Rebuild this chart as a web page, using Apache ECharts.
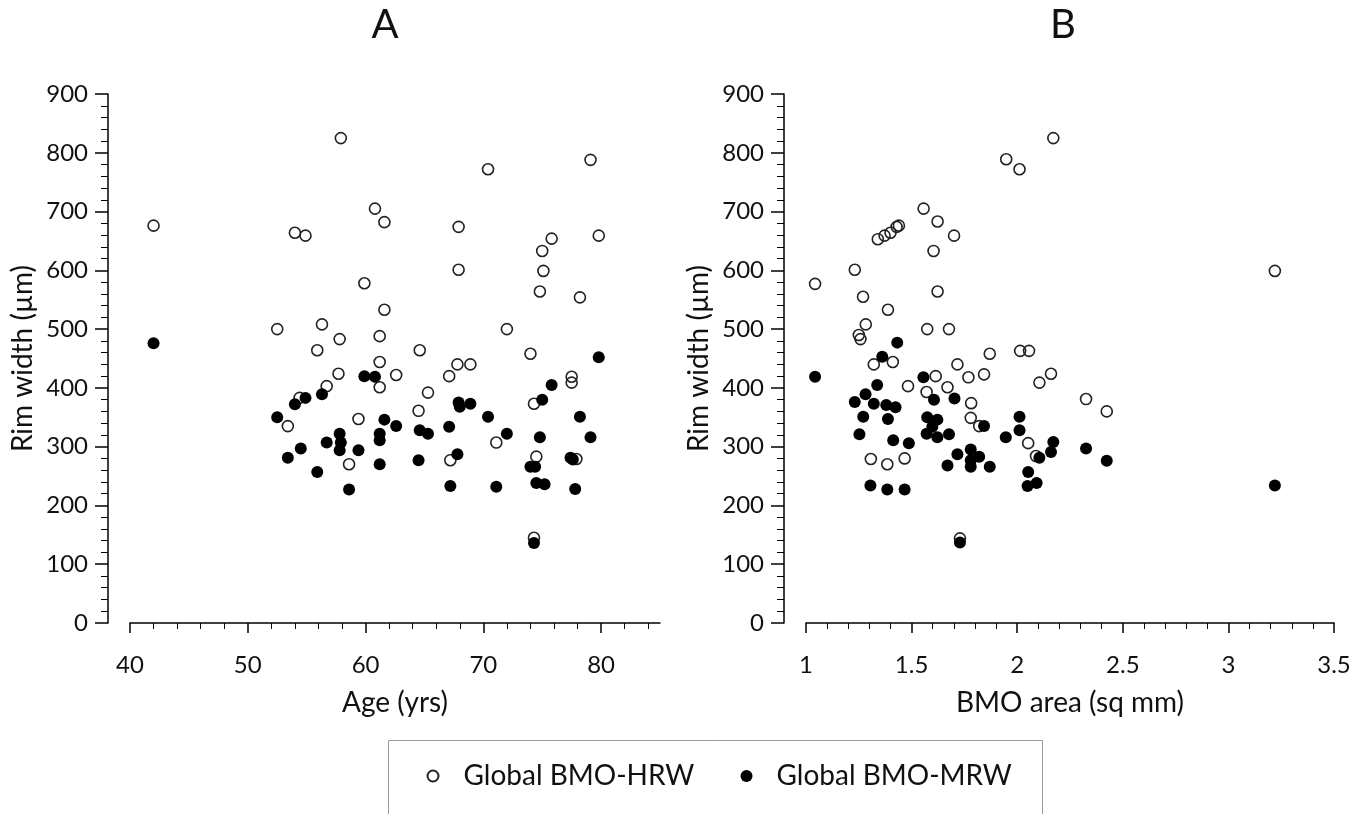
<!DOCTYPE html>
<html><head><meta charset="utf-8">
<script src="https://cdn.jsdelivr.net/npm/echarts@6/dist/echarts.min.js"></script>
<style>html,body{margin:0;padding:0;background:#fff}#c{width:1369px;height:814px}</style>
</head><body><div id="c"></div><script>
// Tick positions
const ageMajorTicks = [40, 50, 60, 70, 80];
const ageMinorTicks = [42, 44, 46, 48, 52, 54, 56, 58, 62, 64, 66, 68, 72, 74, 76, 78, 82, 84];

// Panel A: Age (yrs) vs rim width (µm)
const hrwByAge = [
  [42.0, 676], [57.9, 825], [70.4, 772], [79.1, 788], [60.8, 705], [61.6, 682], [54.0, 664], [54.9, 659],
  [67.9, 674], [75.8, 654], [79.8, 659], [75.0, 633], [67.9, 601], [75.1, 599], [59.9, 578], [74.8, 564],
  [78.2, 554], [61.6, 533], [52.5, 500], [56.3, 508], [57.8, 483], [61.2, 488], [72.0, 500], [55.9, 464],
  [64.6, 464], [74.0, 458], [61.2, 444], [67.8, 440], [68.9, 440], [57.7, 424], [62.6, 422], [67.1, 420],
  [61.2, 401], [56.7, 403], [77.5, 419], [77.5, 409], [65.3, 392], [54.4, 383], [74.3, 373], [64.5, 361],
  [59.4, 347], [53.4, 335], [71.1, 307], [74.5, 283], [67.2, 277], [58.6, 270], [77.9, 279], [74.3, 145]
];
const mrwByAge = [
  [42.0, 476], [79.8, 452], [59.9, 420], [60.8, 419], [75.8, 405], [54.9, 383], [54.0, 372], [56.3, 389],
  [75.0, 380], [67.9, 375], [68.0, 368], [68.9, 373], [70.4, 351], [52.5, 350], [61.6, 346], [62.6, 335],
  [78.2, 351], [57.8, 322], [61.2, 322], [61.2, 311], [57.9, 307], [56.7, 307], [64.6, 328], [65.3, 322],
  [67.1, 334], [72.0, 322], [74.8, 316], [79.1, 316], [54.5, 297], [53.4, 281], [57.8, 294], [59.4, 294],
  [67.8, 287], [55.9, 257], [61.2, 270], [64.5, 277], [74.0, 266], [74.4, 266], [77.4, 281], [77.6, 278],
  [58.6, 227], [67.2, 233], [71.1, 232], [74.5, 238], [75.2, 236], [77.8, 228], [74.3, 136]
];

// Panel B: BMO area (sq mm) vs rim width (µm)
const hrwByArea = [
  [2.171, 825], [1.948, 789], [2.011, 772], [1.557, 705], [1.623, 683], [1.701, 659], [1.604, 633], [1.340, 653],
  [1.372, 659], [1.400, 664], [1.429, 674], [1.440, 676], [1.231, 601], [1.043, 577], [1.623, 564], [1.270, 555],
  [1.388, 533], [1.283, 508], [1.574, 500], [1.677, 500], [1.250, 490], [1.258, 483], [1.411, 444], [1.321, 440],
  [1.870, 458], [2.014, 463], [2.056, 463], [2.160, 424], [2.105, 409], [2.326, 381], [1.717, 440], [1.769, 418],
  [1.843, 423], [1.614, 420], [1.483, 403], [1.670, 401], [1.571, 393], [1.782, 374], [1.780, 349], [1.820, 335],
  [2.052, 306], [2.089, 284], [1.307, 279], [1.385, 270], [1.467, 280], [1.729, 144], [2.424, 360], [3.220, 599]
];
const mrwByArea = [
  [1.432, 477], [1.361, 453], [1.043, 419], [1.556, 418], [1.337, 405], [1.282, 389], [1.231, 376], [1.321, 373],
  [1.380, 371], [1.424, 367], [1.606, 380], [1.703, 382], [1.271, 351], [1.388, 347], [1.574, 350], [1.622, 346],
  [1.843, 335], [2.011, 351], [2.011, 328], [1.253, 321], [1.571, 322], [1.622, 316], [1.677, 321], [1.598, 334],
  [1.946, 316], [1.413, 311], [1.487, 306], [2.171, 308], [2.160, 291], [2.105, 281], [1.717, 287], [1.780, 295],
  [1.820, 283], [1.780, 277], [1.670, 268], [1.780, 266], [1.870, 266], [2.052, 257], [2.049, 233], [2.092, 238],
  [1.305, 234], [1.385, 227], [1.467, 227], [1.729, 137], [2.326, 297], [2.424, 276], [3.220, 234]
];

const FONT = 'Lato';
const TXT = '#111';
const axisLineStyle = { color: '#000', width: 1.5 };

function yAxisFor(gridIndex) {
  return {
    gridIndex, type: 'value', min: 0, max: 900, interval: 100, offset: 22,
    axisLine: { show: true, onZero: false, lineStyle: axisLineStyle },
    axisTick: { show: true, length: 13, lineStyle: { color: '#000', width: 1.5 } },
    minorTick: { show: true, splitNumber: 5, length: 7, lineStyle: { color: '#000', width: 1 } },
    axisLabel: { fontSize: 24, fontFamily: FONT, color: TXT, margin: 20 },
    splitLine: { show: false }, minorSplitLine: { show: false },
    name: 'Rim width (µm)', nameLocation: 'middle', nameGap: 71,
    nameTextStyle: { fontSize: 28, fontFamily: FONT, color: TXT }
  };
}

const hrwStyle = { color: 'rgba(255,255,255,0)', borderColor: '#222', borderWidth: 1.6, opacity: 1 };
const mrwStyle = { color: '#000', opacity: 1 };

const chart = echarts.init(document.getElementById('c'), null, { renderer: 'canvas' });
chart.setOption({
  animation: false,
  backgroundColor: '#fff',
  title: [
    { text: 'A', left: 385, top: 5, textAlign: 'center', padding: 0,
      textStyle: { fontSize: 40, fontWeight: 'normal', fontFamily: FONT, color: TXT } },
    { text: 'B', left: 1063, top: 5, textAlign: 'center', padding: 0,
      textStyle: { fontSize: 40, fontWeight: 'normal', fontFamily: FONT, color: TXT } }
  ],
  grid: [
    { left: 130, top: 94, width: 530, height: 529 },
    { left: 806, top: 94, width: 528, height: 529 }
  ],
  xAxis: [
    { gridIndex: 0, type: 'value', min: 40, max: 85, position: 'bottom',
      axisLine: { show: true, onZero: false, lineStyle: axisLineStyle },
      axisTick: { show: true, customValues: ageMajorTicks, length: 10, lineStyle: { color: '#000', width: 1.5 } },
      axisLabel: { customValues: ageMajorTicks, fontSize: 24, fontFamily: FONT, color: TXT, margin: 30 },
      splitLine: { show: false },
      name: 'Age (yrs)', nameLocation: 'middle', nameGap: 66,
      nameTextStyle: { fontSize: 28, fontFamily: FONT, color: TXT } },
    { gridIndex: 0, type: 'value', min: 40, max: 85, position: 'bottom',
      axisLine: { show: false, onZero: false },
      axisTick: { show: true, customValues: ageMinorTicks, length: 6, lineStyle: { color: '#000', width: 1 } },
      axisLabel: { show: false }, splitLine: { show: false } },
    { gridIndex: 1, type: 'value', min: 1, max: 3.5, interval: 0.5, position: 'bottom',
      axisLine: { show: true, onZero: false, lineStyle: axisLineStyle },
      axisTick: { show: true, length: 10, lineStyle: { color: '#000', width: 1.5 } },
      minorTick: { show: true, splitNumber: 5, length: 6, lineStyle: { color: '#000', width: 1 } },
      axisLabel: { fontSize: 24, fontFamily: FONT, color: TXT, margin: 30 },
      splitLine: { show: false }, minorSplitLine: { show: false },
      name: 'BMO area (sq mm)', nameLocation: 'middle', nameGap: 66,
      nameTextStyle: { fontSize: 28, fontFamily: FONT, color: TXT } }
  ],
  yAxis: [yAxisFor(0), yAxisFor(1)],
  legend: [
    { data: ['Global BMO-HRW'], left: 426.5, top: 762, padding: 0, itemWidth: 11, itemHeight: 11,
      selectedMode: false, textStyle: { fontSize: 28, fontFamily: FONT, color: TXT, padding: [0, 0, 0, 20] } },
    { data: ['Global BMO-MRW'], left: 740.5, top: 762, padding: 0, itemWidth: 12, itemHeight: 12,
      selectedMode: false, textStyle: { fontSize: 28, fontFamily: FONT, color: TXT, padding: [0, 0, 0, 19] } }
  ],
  graphic: [
    { type: 'rect', silent: true, shape: { x: 388.5, y: 740.5, width: 654, height: 120 },
      style: { fill: 'none', stroke: '#999', lineWidth: 1 } }
  ],
  series: [
    { name: 'Global BMO-HRW', type: 'scatter', xAxisIndex: 0, yAxisIndex: 0, data: hrwByAge,
      symbol: 'circle', symbolSize: 11, itemStyle: hrwStyle, z: 2 },
    { name: 'Global BMO-MRW', type: 'scatter', xAxisIndex: 0, yAxisIndex: 0, data: mrwByAge,
      symbol: 'circle', symbolSize: 12, itemStyle: mrwStyle, z: 3 },
    { name: 'Global BMO-HRW', type: 'scatter', xAxisIndex: 2, yAxisIndex: 1, data: hrwByArea,
      symbol: 'circle', symbolSize: 11, itemStyle: hrwStyle, z: 2 },
    { name: 'Global BMO-MRW', type: 'scatter', xAxisIndex: 2, yAxisIndex: 1, data: mrwByArea,
      symbol: 'circle', symbolSize: 12, itemStyle: mrwStyle, z: 3 }
  ]
});
</script></body></html>
